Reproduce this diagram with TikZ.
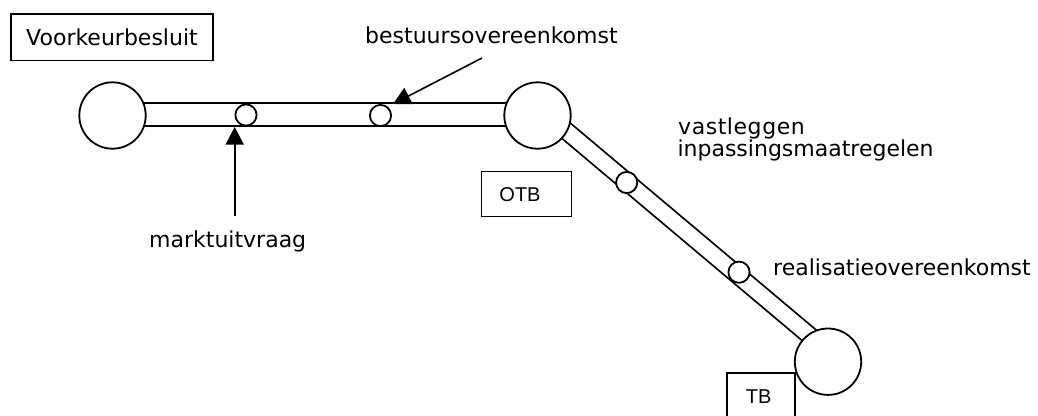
\documentclass[tikz,border=0pt]{standalone}
\usepackage{fontspec}
\setmainfont{DejaVu Sans}
\newfontfamily\arialfont{Liberation Sans}
\newfontfamily\spacedfont[LetterSpace=2.5]{DejaVu Sans}
\usetikzlibrary{arrows.meta}
\begin{document}
\begin{tikzpicture}[x=1pt,y=-1pt,
  lab/.style={font=\fontsize{22}{26}\selectfont, inner sep=0pt, anchor=base west},
  boxlab/.style={font=\arialfont\fontsize{20}{23}\selectfont, inner sep=0pt},
  frame/.style={draw, line width=1.6pt, inner sep=0pt},
  big/.style={circle, draw, fill=white, line width=1.8pt, minimum size=66.4pt, inner sep=0pt},
  small/.style={circle, draw, fill=white, line width=1.8pt, minimum size=21.2pt, inner sep=0pt},
  hband/.style={line width=1.8pt, double=white, double distance=20.9pt},
  dband/.style={line width=1.8pt, double=white, double distance=15.2pt},
  arr/.style={line width=1.6pt, -{Triangle[length=17.5pt,width=18pt]}}]
\useasboundingbox (0,0) rectangle (1038,415);
\clip (0,0) rectangle (1038,415);
% boxes
\node[frame, minimum width=202.5pt, minimum height=46.5pt, font=\fontsize{22}{26}\selectfont] (vk) at (112,37.2) {Voorkeurbesluit};
\node[frame, minimum width=90pt, minimum height=45pt] (otb) at (526.5,194) {};
\node[boxlab] (otbt) at (520,195) {OTB};
\node[frame, minimum width=68.5pt, minimum height=60pt] (tb) at (761,402.8) {};
\node[boxlab] (tbt) at (758.7,397) {TB};
% band ends
\coordinate (h1) at (112.5,114.7);
\coordinate (h2) at (537.5,114.7);
\coordinate (d1) at (560,125.6);
\coordinate (d2) at (815,340.2);
\draw[hband] (h1) -- (h2);
\draw[dband] (d1) -- (d2);
% circles
\node[big] (c1) at (112.5,115.5) {};
\node[big] (c2) at (537.5,115.5) {};
\node[big] (c3) at (828,361.7) {};
\node[small] (s1) at (246,115) {};
\node[small] (s2) at (380.5,115.5) {};
\node[small] (s3) at (626.7,182.5) {};
\node[small] (s4) at (739,272.2) {};
% arrows
\coordinate (m0) at (234.7,216);
\coordinate (m1) at (234.7,127);
\draw[arr] (m0) -- (m1);
\coordinate (b0) at (482,58);
\coordinate (b1) at (393,104);
\draw[arr] (b0) -- (b1);
% labels
\node[lab] (best) at (365,43.3) {bestuursovereenkomst};
\node[lab] (mark) at (149,247.7) {marktuitvraag};
\node[lab, font=\spacedfont\fontsize{22}{26}\selectfont] (vast1) at (678,134) {vastleggen};
\node[lab] (vast2) at (677.3,156.7) {inpassingsmaatregelen};
\node[lab] (real) at (773,275) {realisatieovereenkomst};
\end{tikzpicture}
\end{document}
